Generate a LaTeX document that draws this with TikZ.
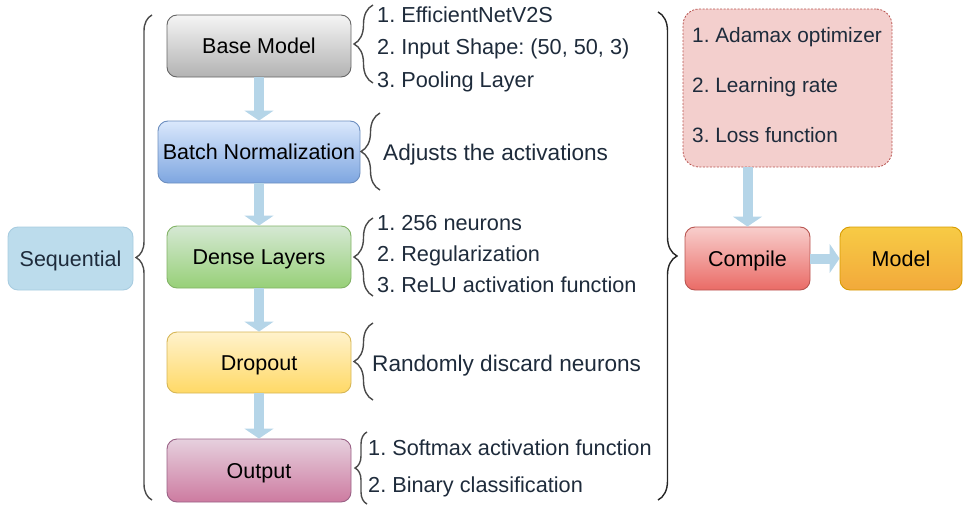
\documentclass[tikz,border=0pt]{standalone}
\usepackage{fontspec}
\setmainfont{Liberation Sans}
\usetikzlibrary{arrows.meta,decorations.pathreplacing}
\frenchspacing
\definecolor{arrowblue}{HTML}{B5D5E8}
\definecolor{navy}{HTML}{1E2B3B}
\definecolor{seqfill}{HTML}{BCDCEC}
\definecolor{seqline}{HTML}{A8CCE0}
\definecolor{bracegray}{HTML}{4A4A4A}
\tikzset{
  box/.style={rounded corners=10pt, draw, line width=0.9pt, inner sep=0pt,
    font=\fontsize{21.5}{26}\selectfont, text=black, text height=15.4pt, text depth=0pt},
  basebox/.style={box, top color=white!96!black, bottom color=black!30, draw=black!60},
  batchbox/.style={box, top color={rgb,255:red,218;green,232;blue,252}, bottom color={rgb,255:red,126;green,166;blue,224}, draw={rgb,255:red,108;green,142;blue,191}},
  densebox/.style={box, top color={rgb,255:red,213;green,232;blue,212}, bottom color={rgb,255:red,151;green,208;blue,119}, draw={rgb,255:red,130;green,179;blue,102}},
  dropbox/.style={box, top color={rgb,255:red,255;green,242;blue,204}, bottom color={rgb,255:red,255;green,217;blue,102}, draw={rgb,255:red,214;green,182;blue,86}},
  outbox/.style={box, top color={rgb,255:red,230;green,208;blue,222}, bottom color={rgb,255:red,205;green,123;blue,160}, draw={rgb,255:red,153;green,97;blue,133}},
  compbox/.style={box, top color={rgb,255:red,248;green,206;blue,204}, bottom color={rgb,255:red,234;green,107;blue,102}, draw={rgb,255:red,184;green,84;blue,80}},
  modelbox/.style={box, top color={rgb,255:red,247;green,203;blue,69}, bottom color={rgb,255:red,242;green,169;blue,59}, draw={rgb,255:red,215;green,155;blue,0}},
  seqbox/.style={box, fill=seqfill, draw=seqline, text=navy},
  fat/.style={line width=10pt, arrowblue, -{Triangle[length=10pt,width=29pt]}},
  bracebig/.style={draw=bracegray, line width=1.4pt, decorate},
  annot/.style={anchor=west, inner sep=0pt, text=navy, font=\fontsize{21.7}{26}\selectfont, text height=15.5pt, text depth=0pt},
  annotbig/.style={anchor=west, inner sep=0pt, text=navy, font=\fontsize{22.6}{27}\selectfont, text height=16.2pt, text depth=0pt},
  annotad/.style={anchor=west, inner sep=0pt, text=navy, font=\fontsize{20.8}{25}\selectfont, text height=14.9pt, text depth=0pt},
}
\begin{document}
\begin{tikzpicture}[x=1pt,y=-1pt]
\useasboundingbox (0,0) rectangle (964,506);
% main column boxes
\node[basebox, minimum width=184pt, minimum height=62pt] (base) at (259,46) {Base Model};
\node[batchbox, minimum width=202pt, minimum height=62pt] (batch) at (259,152) {Batch Normalization};
\node[densebox, minimum width=184pt, minimum height=62pt] (dense) at (259,257) {Dense Layers};
\node[dropbox, minimum width=184pt, minimum height=61pt] (drop) at (259,362.5) {Dropout};
\node[outbox, minimum width=184pt, minimum height=63pt] (out) at (259,470.5) {Output};
\node[seqbox, minimum width=125pt, minimum height=63pt] (seq) at (70.5,258.5) {Sequential};
% right boxes
\node[compbox, minimum width=125pt, minimum height=63pt] (comp) at (747.5,258.5) {Compile};
\node[modelbox, minimum width=122pt, minimum height=63pt] (model) at (901,258.5) {Model};
\node[draw={rgb,255:red,184;green,84;blue,80}, fill={rgb,255:red,243;green,207;blue,205}, dash pattern=on 2pt off 1.5pt, line width=0.8pt, rounded corners=16pt, minimum width=209pt, minimum height=158pt, inner sep=0pt] (opt) at (787.5,88) {};
\node[annotad] (o1) at (692,35) {1. Adamax optimizer};
\node[annotad] (o2) at (692,85) {2. Learning rate};
\node[annotad] (o3) at (692,135) {3. Loss function};
% fat arrows
\draw[fat] (base.south) -- (batch.north);
\draw[fat] (batch.south) -- (dense.north);
\draw[fat] (dense.south) -- (drop.north);
\draw[fat] (drop.south) -- (out.north);
\draw[fat] (opt.south -| comp.north) -- (comp.north);
\draw[fat] (comp.east) -- (model.west);
% big braces
\coordinate (lbB) at (152,500); \coordinate (lbT) at (152,15);
\draw[bracebig, decoration={brace, amplitude=16pt}] (lbB) -- (lbT);
\coordinate (rbT) at (658,12); \coordinate (rbB) at (658,500);
\draw[bracebig, draw=black!85, decoration={brace, amplitude=19pt}] (rbT) -- (rbB);
% small braces
\coordinate (b1B) at (373,83); \coordinate (b1T) at (373,5);
\draw[bracebig, decoration={brace, amplitude=19pt}] (b1B) -- (b1T);
\coordinate (b2B) at (380,190); \coordinate (b2T) at (380,113);
\draw[bracebig, decoration={brace, amplitude=19pt}] (b2B) -- (b2T);
\coordinate (b3B) at (373,296); \coordinate (b3T) at (373,218);
\draw[bracebig, decoration={brace, amplitude=19pt}] (b3B) -- (b3T);
\coordinate (b4B) at (373,400); \coordinate (b4T) at (373,323);
\draw[bracebig, decoration={brace, amplitude=19pt}] (b4B) -- (b4T);
\coordinate (b5B) at (367,504); \coordinate (b5T) at (367,432);
\draw[bracebig, decoration={brace, amplitude=12pt}] (b5B) -- (b5T);
% annotations
\node[annot] (a11) at (377,15) {1. EfficientNetV2S};
\node[annot] (a12) at (377,47) {2. Input Shape: (50, 50, 3)};
\node[annot] (a13) at (377,80) {3. Pooling Layer};
\node[annotbig] (a2) at (383,152) {Adjusts the activations};
\node[annot] (a31) at (377,223) {1. 256 neurons};
\node[annot] (a32) at (377,254) {2. Regularization};
\node[annot] (a33) at (377,285) {3. ReLU activation function};
\node[annotbig] (a4) at (372,363) {Randomly discard neurons};
\node[annot] (a51) at (368,448) {1. Softmax activation function};
\node[annot] (a52) at (368,485) {2. Binary classification};
\end{tikzpicture}
\end{document}
